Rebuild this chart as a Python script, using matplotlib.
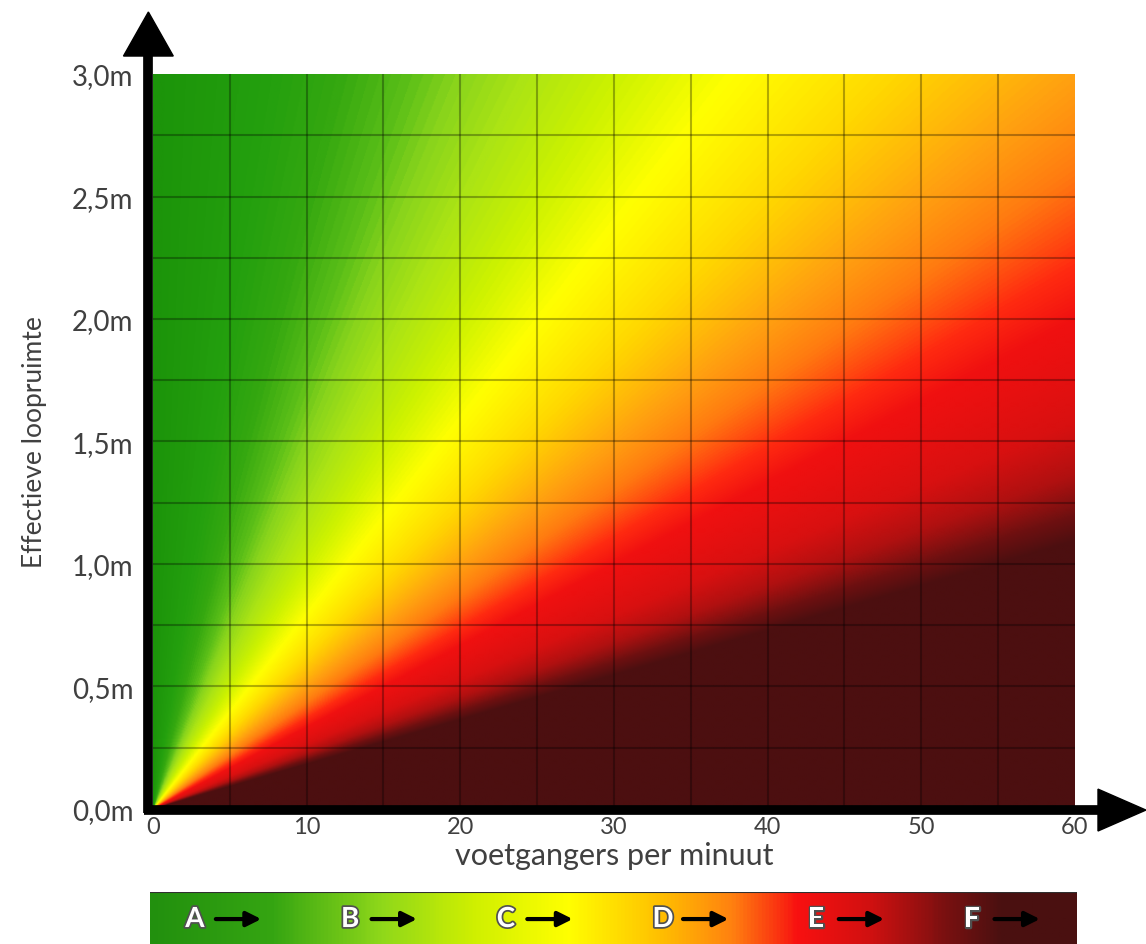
import numpy as np
import matplotlib
matplotlib.use("Agg")
import matplotlib.pyplot as plt
import matplotlib.patheffects as pe
from matplotlib.colors import LinearSegmentedColormap
from matplotlib.patches import Polygon

plt.rcParams['font.family'] = ['Lato', 'DejaVu Sans']

# pedestrian flow per metre of width (ped/min/m) and the colour seen there
flow_levels = [0, 2.5, 4, 5.5, 6.5, 8, 10, 12.5, 16, 20, 23, 27, 30, 38, 44, 50, 55, 60]
flow_colors = ['#1c940a', '#24a00e', '#35a810', '#5cbf18', '#88d41c', '#acE414',
               '#ccf200', '#ffff00', '#ffd800', '#ffa010', '#ff7a10', '#ff2a10',
               '#f01010', '#d81010', '#b01010', '#6e1010', '#4c0f10', '#4c0f10']

x_ticks = [0, 10, 20, 30, 40, 50, 60]
x_labels = ['0', '10', '20', '30', '40', '50', '60']
y_ticks = [0, 0.5, 1.0, 1.5, 2.0, 2.5, 3.0]
y_labels = ['0,0m', '0,5m', '1,0m', '1,5m', '2,0m', '2,5m', '3,0m']

# level of service bar
los_letters = ['A', 'B', 'C', 'D', 'E', 'F']
bar_stops = [0, 0.13, 0.25, 0.35, 0.45, 0.55, 0.63, 0.70, 0.78, 0.86, 0.92, 1.0]
bar_colors = ['#22900e', '#35a512', '#90d81a', '#d0f000', '#ffff00', '#ffc000',
              '#ff8010', '#f81010', '#d01010', '#7a1010', '#4a1010', '#4a1010']

X_MAX, Y_MAX = 60, 3.0

fig = plt.figure(figsize=(11.46, 9.45), dpi=100)
ax = fig.add_axes([0.1335, 0.1429, 0.8045, 0.7777])

cmap = LinearSegmentedColormap.from_list(
    'los', list(zip(np.array(flow_levels) / flow_levels[-1], flow_colors)))

xs = np.linspace(0, X_MAX, 900)
ys = np.linspace(0, Y_MAX, 700)
XX, YY = np.meshgrid(xs, ys)
with np.errstate(divide='ignore', invalid='ignore'):
  q = XX / YY
q = np.nan_to_num(q, nan=0, posinf=flow_levels[-1])
q = np.clip(q, 0, flow_levels[-1])
ax.imshow(q, extent=[0, X_MAX, 0, Y_MAX], origin='lower', aspect='auto',
          cmap=cmap, vmin=0, vmax=flow_levels[-1], interpolation='bilinear')

# grid
for gx in np.arange(5, X_MAX, 5):
  ax.axvline(gx, color='black', alpha=0.3, lw=1.5)
for gy in np.arange(0.25, Y_MAX, 0.25):
  ax.axhline(gy, color='black', alpha=0.3, lw=1.5)

ax.set_xlim(0, X_MAX)
ax.set_ylim(0, Y_MAX)
for s in ax.spines.values():
  s.set_visible(False)

ax.set_xticks(x_ticks)
ax.set_xticklabels(x_labels)
ax.set_yticks(y_ticks)
ax.set_yticklabels(y_labels)
ax.tick_params(length=0, labelcolor='#404040')
ax.tick_params(axis='y', pad=14, labelsize=20)
ax.tick_params(axis='x', pad=5, labelsize=17)
ax.set_xlabel('voetgangers per minuut', fontsize=22, color='#404040', labelpad=3)
ax.set_ylabel('Effectieve loopruimte', fontsize=19, color='#404040', labelpad=18)

# thick axis arrows
tr = ax.transAxes
ax.plot([-0.005, -0.005], [-0.006, 1.03], color='black', lw=7, transform=tr,
        clip_on=False, solid_capstyle='butt')
ax.add_patch(Polygon([[-0.032, 1.0245], [0.022, 1.0245], [-0.005, 1.0844]],
                     closed=True, color='black', transform=tr, clip_on=False))
ax.plot([-0.01, 1.03], [-0.0015, -0.0015], color='black', lw=7, transform=tr,
        clip_on=False, solid_capstyle='butt')
ax.add_patch(Polygon([[1.025, 0.027], [1.025, -0.030], [1.077, -0.0015]],
                     closed=True, color='black', transform=tr, clip_on=False))

# LOS legend bar
lax = fig.add_axes([0.1309, 0.0, 0.8089, 0.055])
bar_cmap = LinearSegmentedColormap.from_list('bar', list(zip(bar_stops, bar_colors)))
lax.imshow(np.linspace(0, 1, 500)[None, :], extent=[0, 1, 0, 1], aspect='auto',
           cmap=bar_cmap)
lax.set_xlim(0, 1)
lax.set_ylim(0, 1)
lax.set_xticks([])
lax.set_yticks([])
for s in lax.spines.values():
  s.set_visible(False)
lax.axhline(1, color='#303030', lw=1.5)

for i, letter in enumerate(los_letters):
  lx = 0.038 + i * 0.168
  lax.text(lx, 0.48, letter, fontsize=20, fontweight='bold', color='white',
           ha='left', va='center',
           path_effects=[pe.withStroke(linewidth=2.5, foreground='#505050')])
  lax.annotate('', xy=(lx + 0.085, 0.48), xytext=(lx + 0.03, 0.48),
               arrowprops=dict(arrowstyle='-|>', lw=3, color='black',
                               mutation_scale=22))

fig.savefig('out.png', dpi=100)
